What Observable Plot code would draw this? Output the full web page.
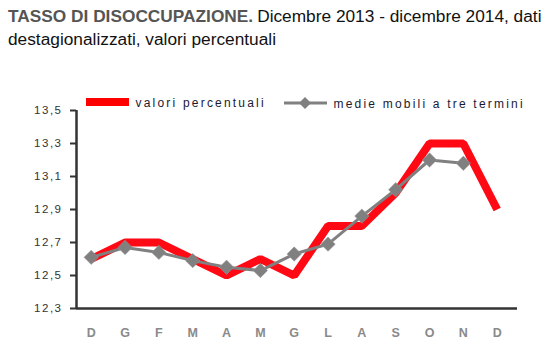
<!DOCTYPE html>
<html><head><meta charset="utf-8">
<script src="https://cdn.jsdelivr.net/npm/d3@7"></script>
<script src="https://cdn.jsdelivr.net/npm/@observablehq/plot@0.6"></script>
<style>
body{margin:0;background:#fff;font-family:"Liberation Sans Narrow","Arial Narrow","Liberation Sans",sans-serif;}
#wrap{position:relative;width:549px;height:355px;}
#title{position:absolute;left:8px;top:5px;width:545px;font-size:17.3px;line-height:23px;color:#111;}
#title div{white-space:nowrap;}
#title b{color:#555;}
#chart{position:absolute;left:0;top:60px;}
.leg{position:absolute;font-size:12px;letter-spacing:2.2px;color:#1a1a33;white-space:nowrap;}
</style></head><body>
<div id="wrap">
<div id="title"><div><b style="margin-right:4px">TASSO DI DISOCCUPAZIONE.</b><span>Dicembre 2013 - dicembre 2014, dati</span></div><div>destagionalizzati, valori percentuali</div></div>
<div id="chart"></div>
<div class="leg" style="left:86px;top:96px;"><svg width="44" height="10" style="vertical-align:0px"><rect x="0" y="1" width="43" height="8" fill="#ff0000"/></svg> valori percentuali</div>
<div class="leg" style="left:284px;top:96px;"><svg width="44" height="14" style="vertical-align:-2px"><line x1="0" y1="7" x2="43" y2="7" stroke="#808080" stroke-width="3"/><path d="M21,1 L27,7 L21,13 L15,7Z" fill="#808080"/></svg> medie mobili a tre termini</div>
</div>
<script>
const months = ["D","G","F","M","A","M","G","L","A","S","O","N","D"];
const valori = [12.6,12.7,12.7,12.6,12.5,12.6,12.5,12.8,12.8,13.0,13.3,13.3,12.9];
const medie = [12.61,12.67,12.64,12.59,12.55,12.53,12.63,12.69,12.86,13.02,13.2,13.18];
const yTicks = [12.3,12.5,12.7,12.9,13.1,13.3,13.5];

const red = valori.map((v,i)=>({i,v}));
const gray = medie.map((v,i)=>({i,v}));

const plot = Plot.plot({
  width:549, height:295,
  marginLeft:76, marginRight:32, marginTop:50, marginBottom:47,
  style:{fontFamily:'"Liberation Sans Narrow","Arial Narrow","Liberation Sans",sans-serif', background:"transparent"},
  x:{domain:[-0.435,12.6], axis:null},
  y:{domain:[12.3,13.5], axis:null},
  marks:[
    Plot.axisY({ticks:yTicks, label:null, tickSize:6, tickPadding:8, stroke:"#333", strokeWidth:2, fill:"#333", fontSize:11.5,
      tickFormat:d=>d.toFixed(1).replace(".",",")}),
    Plot.axisX({ticks:d3.range(13), label:null, tickSize:0, tickPadding:0, dy:20, fontSize:12.5, fontWeight:"bold", fill:"#8a8a8a",
      tickFormat:i=>months[i]}),
    Plot.line(red,{x:"i",y:"v",stroke:"#ff0a14",strokeWidth:8,strokeLinejoin:"miter",strokeLinecap:"butt"}),
    Plot.line(gray,{x:"i",y:"v",stroke:"#808080",strokeWidth:3}),
    Plot.dot(gray,{x:"i",y:"v",symbol:"diamond2",r:6.5,fill:"#808080",stroke:"#9a9a9a",strokeWidth:0.5}),
    Plot.ruleX([-0.435],{stroke:"#333",strokeWidth:2.5}),
    Plot.ruleY([12.3],{stroke:"#333",strokeWidth:2.5})
  ]
});
document.getElementById("chart").appendChild(plot);
plot.querySelectorAll('g[aria-label="y-axis tick label"] text').forEach(t=>t.setAttribute("letter-spacing","1.5"));
</script>
</body></html>
